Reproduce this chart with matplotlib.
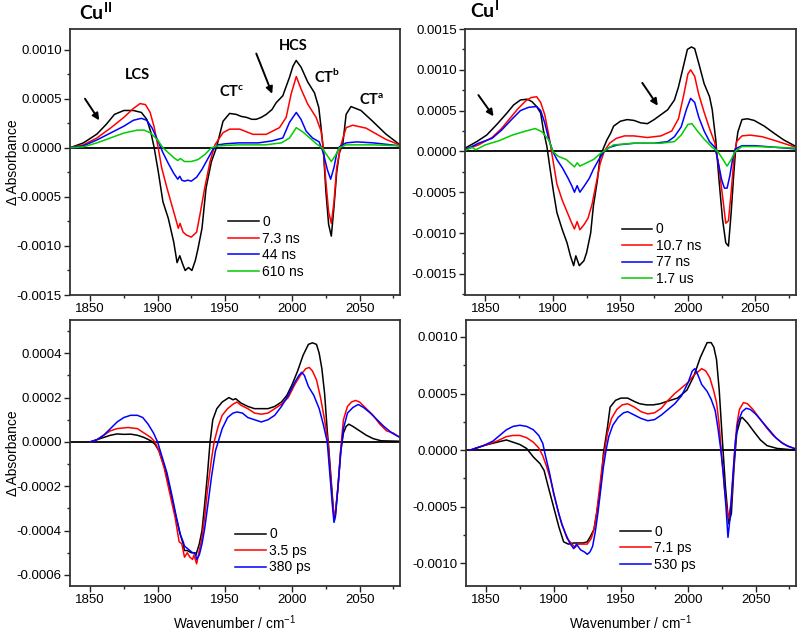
import numpy as np
import matplotlib
matplotlib.use('Agg')
import matplotlib.pyplot as plt
from matplotlib.ticker import MultipleLocator, FormatStrFormatter

plt.rcParams['font.family'] = ['Liberation Sans', 'DejaVu Sans']
plt.rcParams['axes.unicode_minus'] = False

# -----------------------------
# Data (wavenumber / cm-1, dA in units of 1e-4)
# -----------------------------
# Cu(II), ns delays
cu2_ns_labels = ['0', '7.3 ns', '44 ns', '610 ns']
cu2_ns_0_x = [1835, 1845, 1855, 1862, 1868, 1875, 1882, 1888, 1892, 1895, 1897.5, 1900.5, 1904, 1908, 1912,
              1914.5, 1916.5, 1918.5, 1920.5, 1923, 1925.5, 1928, 1930, 1933, 1936, 1940, 1943.7, 1948.6,
              1953.5, 1958.5, 1962, 1966, 1970, 1973.3, 1977, 1980.7, 1985, 1988.1, 1993, 1998, 2000.5,
              2002.9, 2006.6, 2011.5, 2016.5, 2019.7, 2021.4, 2023.1, 2025, 2027, 2029, 2031, 2033, 2035,
              2037.5, 2040, 2043.6, 2051, 2059.7, 2069.5, 2079.5]
cu2_ns_0_y = [0, 0.5, 1.4, 2.4, 3.4, 3.8, 3.8, 3.6, 2.9, 1.6, 0, -2.4, -5.5, -7.2, -9.6,
              -11.7, -11.0, -11.8, -12.5, -12.2, -12.5, -11.5, -10.3, -8.2, -4.1, -1.4, 0, 2.7,
              3.5, 3.4, 3.2, 3.1, 2.9, 2.9, 3.1, 3.4, 3.9, 4.6, 5.3, 7.2, 8.3,
              8.9, 8.2, 6.7, 5.6, 4.1, 2.05, -0.2, -4.5, -7.8, -9.0, -6.0, -2.5, -0.5,
              0.35, 3.4, 4.2, 3.8, 2.7, 1.4, 0.35]
cu2_ns_1_x = [1835, 1845, 1855, 1865, 1875, 1882, 1887, 1891, 1894.5, 1897.5, 1900.5, 1903, 1907, 1910.5, 1914,
              1915.4, 1916.7, 1919, 1921.6, 1925, 1929, 1931.5, 1935, 1939, 1942.6, 1948.6, 1953.5, 1961,
              1970.8, 1980.7, 1990.5, 1995.5, 1999.2, 2003, 2006.5, 2011.5, 2017.7, 2021.4, 2023, 2025,
              2027, 2029, 2031, 2033, 2036.2, 2040, 2044.9, 2054.8, 2069.5, 2079.5]
cu2_ns_1_y = [0, 0.3, 1.0, 2.0, 3.1, 4.0, 4.5, 4.4, 3.6, 2.1, 0, -2.0, -4.1, -5.8, -7.5,
              -8.2, -7.7, -8.6, -8.9, -9.1, -8.6, -6.8, -4.1, -1.4, 0.3, 1.54, 1.9, 1.9,
              1.37, 1.37, 2.05, 3.1, 5.5, 7.26, 6.0, 4.45, 3.1, 1.7, 0, -3.5,
              -6.5, -7.7, -5.5, -2.0, 0.3, 2.05, 2.3, 2.0, 0.86, 0.3]
cu2_ns_2_x = [1835, 1845, 1855, 1865, 1875, 1882, 1888, 1892, 1896, 1900, 1904, 1908, 1912, 1915, 1916.5,
              1918, 1920, 1922.5, 1925, 1929, 1933, 1937, 1941, 1945, 1950, 1960, 1975, 1985, 1993, 1998,
              2003, 2006.5, 2010.3, 2015, 2020, 2023, 2026, 2028.5, 2031, 2033, 2035, 2040, 2048, 2060, 2080]
cu2_ns_2_y = [0, 0.2, 0.8, 1.5, 2.2, 2.8, 3.0, 2.8, 2.0, 0.8, -0.5, -1.6, -2.6, -3.2, -2.9,
              -3.3, -3.4, -3.3, -3.4, -3.0, -2.2, -1.2, -0.2, 0.3, 0.4, 0.5, 0.5, 0.7, 1.0, 2.6,
              3.6, 2.9, 1.7, 1.0, 0.6, -0.5, -2.2, -3.2, -2.0, -0.6, 0.1, 0.5, 0.6, 0.5, 0.2]
cu2_ns_3_x = [1835, 1845, 1855, 1865, 1875, 1885, 1890, 1895, 1900, 1904, 1908, 1912, 1915, 1917, 1920,
              1925, 1930, 1935, 1940, 1945, 1960, 1980, 1992, 1998, 2003, 2008, 2013, 2018, 2022, 2026,
              2029, 2032, 2035, 2040, 2060, 2080]
cu2_ns_3_y = [0, 0.1, 0.5, 1.0, 1.5, 1.8, 1.8, 1.5, 0.8, 0, -0.5, -1.0, -1.3, -1.1, -1.4,
              -1.4, -1.2, -0.7, 0, 0.2, 0.3, 0.3, 0.5, 1.0, 2.05, 1.6, 1.0, 0.4, 0, -0.8,
              -1.4, -0.8, 0, 0.3, 0.3, 0.2]

# Cu(I), ns delays
cu1_ns_labels = ['0', '10.7 ns', '77 ns', '1.7 us']
cu1_ns_0_x = [1835, 1843.7, 1851, 1858.5, 1866, 1871, 1876, 1881, 1884.5, 1888, 1891, 1893, 1895.6, 1898, 1900.6,
              1903, 1907, 1910.5, 1913, 1915.4, 1917, 1919.6, 1923, 1925, 1928, 1930, 1933, 1935, 1938, 1940,
              1942.7, 1945, 1950, 1955, 1960, 1965, 1970, 1975, 1980, 1985, 1990, 1993, 1996.6, 1999.6,
              2002.6, 2005, 2008, 2012, 2016, 2018, 2020.6, 2023, 2025.6, 2028, 2030, 2032, 2034, 2035.5,
              2037, 2040, 2044, 2049, 2056.5, 2064, 2071, 2080]
cu1_ns_0_y = [0.4, 1.2, 2.0, 3.3, 4.7, 5.7, 6.3, 6.4, 6.1, 5.5, 4.7, 2.6, 0.6, -2.2, -5.1,
              -7.5, -9.6, -11.2, -12.8, -14.0, -12.8, -14.0, -13.4, -12.4, -10.0, -6.7, -3.5, -0.6, 0.6, 1.4,
              2.2, 3.1, 3.7, 3.9, 3.8, 3.5, 3.4, 3.9, 4.5, 5.1, 6.3, 7.9, 10.4, 12.5,
              12.8, 12.6, 10.8, 8.3, 6.7, 5.1, 1.4, -3.5, -8.3, -11.2, -11.6, -7.5, -2.6, 0.6,
              2.4, 3.9, 4.0, 3.8, 3.1, 2.2, 1.4, 0.6]
cu1_ns_1_x = [1835, 1845, 1855, 1862, 1868, 1874, 1880, 1884, 1888, 1891, 1894, 1897, 1900, 1903, 1907,
              1911, 1914, 1916, 1918, 1920, 1923, 1926, 1929, 1932, 1935, 1938, 1942, 1947, 1953, 1960,
              1970, 1980, 1988, 1993, 1997, 2000, 2002, 2005, 2008, 2012, 2016, 2020, 2023, 2026, 2028,
              2030, 2032, 2034, 2036, 2040, 2046, 2055, 2065, 2080]
cu1_ns_1_y = [0.2, 0.8, 1.7, 2.8, 4.0, 5.2, 6.2, 6.6, 6.7, 6.0, 4.5, 2.0, -1.0, -4.0, -6.0,
              -7.6, -8.8, -9.5, -8.6, -9.6, -9.0, -8.2, -6.5, -4.0, -1.5, 0, 1.0, 1.6, 1.9, 1.9,
              1.7, 1.9, 2.5, 4.0, 7.0, 9.5, 10.0, 9.2, 7.0, 4.8, 2.8, 1.0, -2.0, -6.0, -8.8,
              -8.5, -5.0, -1.0, 1.2, 1.9, 2.0, 1.8, 1.3, 0.5]
cu1_ns_2_x = [1835, 1845, 1855, 1862, 1870, 1876, 1882, 1888, 1891, 1894, 1897, 1900, 1903, 1907, 1911,
              1914, 1916, 1918, 1920, 1923, 1927, 1930, 1934, 1938, 1942, 1948, 1960, 1975, 1985, 1990,
              1995, 1999, 2002, 2005, 2008, 2012, 2016, 2020, 2022, 2025, 2027, 2029, 2031, 2033, 2035,
              2040, 2050, 2065, 2080]
cu1_ns_2_y = [0.2, 1.0, 1.6, 2.6, 4.0, 5.0, 5.4, 5.5, 5.0, 3.5, 1.5, 0, -1.0, -2.0, -3.2,
              -4.2, -5.0, -4.2, -5.0, -4.3, -3.3, -2.2, -1.0, 0, 0.5, 0.8, 1.0, 1.0, 1.2, 1.8,
              3.0, 5.2, 6.5, 6.0, 4.2, 2.5, 1.2, 0.5, -1.0, -3.5, -4.5, -4.5, -3.0, -1.0, 0.3,
              0.7, 0.7, 0.5, 0.3]
cu1_ns_3_x = [1835, 1840, 1843, 1850, 1860, 1870, 1880, 1887, 1892, 1897, 1900, 1904, 1910, 1914, 1916,
              1918, 1920, 1925, 1930, 1935, 1940, 1945, 1960, 1980, 1990, 1995, 2000, 2003, 2007, 2012,
              2018, 2022, 2026, 2029, 2032, 2035, 2040, 2050, 2065, 2080]
cu1_ns_3_y = [0.1, 0.5, 0.2, 0.8, 1.3, 2.0, 2.5, 2.8, 2.4, 1.4, 0, -0.6, -1.0, -1.6, -1.9,
              -1.4, -1.8, -1.4, -1.0, -0.3, 0.3, 0.8, 1.0, 1.0, 1.2, 2.0, 3.3, 3.4, 2.5, 1.5,
              0.5, 0, -1.0, -1.8, -1.0, 0, 0.6, 0.6, 0.5, 0.4]

# Cu(II), ps delays
cu2_ps_labels = ['0', '3.5 ps', '380 ps']
cu2_ps_0_x = [1850, 1855, 1860, 1865, 1870, 1875, 1880, 1885, 1890, 1895, 1898, 1901, 1905, 1909, 1913,
              1916.5, 1919, 1920, 1922, 1925, 1927, 1928.5, 1931, 1933, 1935, 1937, 1939, 1941, 1944, 1948,
              1953, 1956, 1958, 1962, 1967, 1972, 1977, 1982, 1987, 1992, 1996, 2000, 2004, 2008, 2012,
              2015, 2018, 2020, 2022, 2024, 2026, 2027, 2029, 2031, 2032, 2034, 2036, 2038, 2040, 2042,
              2045, 2050, 2055, 2060, 2066, 2080]
cu2_ps_0_y = [0, 0.1, 0.2, 0.3, 0.36, 0.34, 0.35, 0.3, 0.2, 0.05, -0.1, -0.4, -1.1, -2.1, -3.2,
              -4.1, -4.6, -4.9, -4.9, -5.0, -5.0, -5.1, -4.6, -4.0, -2.8, -1.5, 0, 1.0, 1.5, 1.8,
              2.0, 1.9, 1.95, 1.75, 1.6, 1.5, 1.5, 1.5, 1.6, 1.8, 2.1, 2.6, 3.2, 3.9, 4.4,
              4.47, 4.4, 4.0, 3.3, 2.2, 0.5, -0.2, -1.8, -3.4, -3.3, -2.0, -0.4, 0.4, 0.7, 0.8,
              0.7, 0.5, 0.3, 0.15, 0.05, 0.03]
cu2_ps_1_x = [1850, 1855, 1860, 1865, 1870, 1878, 1885, 1890, 1895, 1898, 1901, 1905, 1909, 1913, 1916,
              1918, 1920, 1922, 1924, 1926, 1927, 1929, 1931, 1933, 1935, 1937, 1940, 1942, 1945, 1948,
              1952, 1956, 1959, 1962, 1967, 1972, 1977, 1982, 1987, 1992, 1997, 2002, 2006, 2010, 2012.6,
              2015, 2018, 2021, 2024, 2026.5, 2028, 2030, 2031, 2032, 2034, 2036, 2038, 2041, 2044, 2047,
              2050, 2055, 2060, 2065, 2070, 2075, 2080]
cu2_ps_1_y = [0, 0.1, 0.3, 0.5, 0.6, 0.65, 0.6, 0.4, 0.2, 0, -0.4, -1.2, -2.3, -3.4, -4.5,
              -4.6, -5.2, -5.0, -5.2, -5.3, -5.1, -5.5, -4.9, -4.3, -3.4, -2.2, -0.8, 0, 0.7, 1.2,
              1.5, 1.7, 1.8, 1.65, 1.5, 1.3, 1.25, 1.3, 1.5, 1.7, 2.0, 2.6, 3.0, 3.3, 3.36,
              3.2, 2.8, 2.0, 1.0, 0, -1.2, -2.8, -3.3, -3.2, -2.0, -0.3, 1.0, 1.6, 1.8, 1.87,
              1.8, 1.5, 1.2, 0.8, 0.5, 0.4, 0.2]
cu2_ps_2_x = [1850, 1855, 1860, 1865, 1870, 1875, 1880, 1885, 1889, 1893, 1897, 1900, 1903, 1907, 1911,
              1914, 1917, 1919, 1920, 1922, 1924, 1926, 1928, 1929, 1931, 1933, 1935, 1937, 1940, 1943,
              1945, 1948, 1952, 1956, 1959, 1963, 1967, 1972, 1977, 1982, 1987, 1992, 1997, 2002, 2005,
              2007, 2009, 2012, 2016, 2020, 2023, 2026, 2028, 2030, 2031, 2032, 2034, 2036, 2038, 2041,
              2045, 2049, 2053, 2058, 2063, 2068, 2074, 2080]
cu2_ps_2_y = [0, 0.1, 0.3, 0.6, 0.9, 1.1, 1.2, 1.2, 1.1, 0.8, 0.4, 0, -0.6, -1.4, -2.5,
              -3.4, -4.2, -4.5, -4.7, -4.8, -4.9, -5.0, -5.0, -5.3, -5.1, -4.6, -3.9, -3.0, -1.6, -0.4,
              0, 0.6, 1.1, 1.3, 1.35, 1.3, 1.1, 1.0, 0.9, 1.0, 1.2, 1.6, 2.1, 2.7, 3.0,
              3.14, 3.0, 2.5, 2.1, 1.5, 0.8, 0, -1.5, -3.0, -3.63, -3.4, -2.0, -0.5, 0.6, 1.3,
              1.55, 1.69, 1.55, 1.3, 1.0, 0.7, 0.4, 0.2]

# Cu(I), ps delays
cu1_ps_labels = ['0', '7.1 ps', '530 ps']
cu1_ps_0_x = [1838, 1848, 1858, 1865, 1870, 1875, 1880, 1885, 1890, 1893, 1896, 1900, 1904, 1907.5, 1911,
              1915, 1919, 1922, 1925, 1927, 1930, 1932, 1935, 1937, 1940, 1942, 1946, 1950, 1955, 1960,
              1964, 1969, 1974, 1979, 1984, 1992, 1999, 2004, 2009, 2014, 2017, 2019, 2021, 2023, 2025,
              2027.6, 2030, 2032, 2034, 2036, 2039, 2040, 2044, 2049, 2053.6, 2058.5, 2066, 2080]
cu1_ps_0_y = [0, 0.4, 0.7, 0.9, 0.7, 0.5, 0.15, -0.6, -1.2, -1.8, -3.2, -5.0, -6.8, -8.1, -8.3,
              -8.2, -8.2, -8.2, -8.1, -7.7, -7.0, -5.6, -3.2, -0.3, 2.0, 3.8, 4.4, 4.6, 4.6, 4.3,
              4.1, 4.0, 4.0, 4.1, 4.3, 4.6, 5.3, 6.5, 8.2, 9.5, 9.5, 9.1, 8.0, 5.3, 1.5,
              -3.2, -6.5, -5.6, -1.5, 1.5, 2.8, 2.9, 2.4, 1.6, 0.9, 0.4, 0.15, 0]
cu1_ps_1_x = [1838, 1848, 1858, 1865, 1870, 1875, 1880, 1885, 1889, 1892, 1895, 1898, 1901, 1904, 1907,
              1910, 1913, 1916, 1918, 1921, 1925, 1928, 1930, 1932, 1934, 1936, 1938, 1940, 1943, 1947,
              1951, 1955, 1960, 1965, 1970, 1975, 1980, 1985, 1990, 1995, 2000, 2004, 2008, 2010, 2013,
              2016, 2019, 2021, 2023, 2025, 2027, 2029, 2030, 2032, 2034, 2036, 2038, 2041, 2044, 2048,
              2053, 2058, 2063, 2068, 2073, 2080]
cu1_ps_1_y = [0, 0.4, 0.8, 1.2, 1.3, 1.3, 1.1, 0.7, 0.2, -0.5, -1.5, -2.7, -4.2, -5.7, -6.8,
              -7.8, -8.2, -8.6, -8.3, -8.3, -8.3, -7.8, -7.0, -5.5, -3.5, -1.5, 0, 1.5, 2.8, 3.6,
              4.0, 4.1, 3.8, 3.4, 3.2, 3.3, 3.7, 4.4, 5.0, 5.5, 6.0, 6.6, 7.0, 7.2, 7.0,
              6.4, 5.2, 4.2, 2.2, -0.8, -3.5, -5.5, -6.0, -4.5, -1.0, 2.2, 3.6, 4.2, 4.1, 3.6,
              2.8, 2.0, 1.3, 0.8, 0.4, 0.1]
cu1_ps_2_x = [1838, 1848, 1855, 1860, 1865, 1870, 1875, 1880, 1885, 1889, 1892, 1894, 1897, 1900, 1903,
              1906, 1909, 1912, 1915, 1917, 1920, 1923, 1925, 1927, 1929, 1931, 1933, 1935, 1937, 1939,
              1941, 1944, 1948, 1952, 1955, 1960, 1965, 1970, 1975, 1980, 1985, 1990, 1995, 2000, 2003,
              2005, 2007, 2010, 2014, 2017, 2020, 2022, 2024, 2026, 2028, 2029.5, 2031, 2033, 2035, 2037,
              2040, 2043, 2046, 2050, 2055, 2060, 2065, 2070, 2075, 2080]
cu1_ps_2_y = [0, 0.4, 0.8, 1.3, 1.8, 2.1, 2.2, 2.1, 1.8, 1.3, 0.6, -0.5, -2.0, -3.8, -5.2,
              -6.5, -7.4, -8.2, -8.7, -8.3, -8.8, -9.0, -9.2, -9.0, -8.5, -7.2, -5.5, -3.5, -1.5, 0,
              1.2, 2.2, 2.9, 3.3, 3.4, 3.1, 2.8, 2.6, 2.7, 3.1, 3.6, 4.1, 4.8, 6.0, 7.0,
              7.2, 6.7, 5.8, 5.2, 4.5, 3.5, 2.0, 0.2, -2.0, -5.0, -7.7, -6.0, -2.5, 0.8, 2.5,
              3.4, 3.7, 3.6, 3.2, 2.5, 1.8, 1.1, 0.6, 0.3, 0.1]

colors = ['#000000', '#ff0000', '#0000ff', '#00cc00']


def setup_axes(ax, ylim, major, minor):
    ax.set_xlim(1835, 2080)
    ax.set_ylim(*ylim)
    ax.xaxis.set_major_locator(MultipleLocator(50))
    ax.xaxis.set_minor_locator(MultipleLocator(25))
    ax.yaxis.set_major_locator(MultipleLocator(major))
    ax.yaxis.set_minor_locator(MultipleLocator(minor))
    ax.yaxis.set_major_formatter(FormatStrFormatter('%.4f'))
    ax.tick_params(which='both', direction='out', top=False, right=False,
                   labelsize=9.5, color='#222222', width=1.0, pad=2)
    ax.tick_params(which='major', length=4)
    ax.tick_params(which='minor', length=2.5)
    for s in ax.spines.values():
        s.set_linewidth(1.3)
        s.set_color('#333333')
    ax.axhline(0, color='k', lw=1.3, zorder=1)


def draw(ax, xs, ys, labels, legend_xy):
    for x, y, lab, c in zip(xs, ys, labels, colors):
        ax.plot(x, np.array(y) * 1e-4, color=c, lw=1.1, label=lab, zorder=2)
    ax.legend(loc='upper left', bbox_to_anchor=legend_xy, frameon=False, fontsize=10,
              handlelength=2.2, handletextpad=0.25, labelspacing=0.18,
              borderpad=0, borderaxespad=0)


fig = plt.figure(figsize=(8, 6.32), dpi=100)
ax_tl = fig.add_axes([0.0875, 0.5332, 0.4125, 0.4209])
ax_tr = fig.add_axes([0.5813, 0.5332, 0.4137, 0.4209])
ax_bl = fig.add_axes([0.0875, 0.0728, 0.4125, 0.4209])
ax_br = fig.add_axes([0.5825, 0.0728, 0.4125, 0.4209])

setup_axes(ax_tl, (-0.0015, 0.00121), 0.0005, 0.00025)
setup_axes(ax_tr, (-0.00176, 0.0015), 0.0005, 0.00025)
setup_axes(ax_bl, (-0.00065, 0.00055), 0.0002, 0.0001)
setup_axes(ax_br, (-0.0012, 0.00115), 0.0005, 0.00025)

draw(ax_tl, [cu2_ns_0_x, cu2_ns_1_x, cu2_ns_2_x, cu2_ns_3_x],
     [cu2_ns_0_y, cu2_ns_1_y, cu2_ns_2_y, cu2_ns_3_y], cu2_ns_labels, (0.479, 0.30))
draw(ax_tr, [cu1_ns_0_x, cu1_ns_1_x, cu1_ns_2_x, cu1_ns_3_x],
     [cu1_ns_0_y, cu1_ns_1_y, cu1_ns_2_y, cu1_ns_3_y], cu1_ns_labels, (0.473, 0.273))
draw(ax_bl, [cu2_ps_0_x, cu2_ps_1_x, cu2_ps_2_x],
     [cu2_ps_0_y, cu2_ps_1_y, cu2_ps_2_y], cu2_ps_labels, (0.5, 0.22))
draw(ax_br, [cu1_ps_0_x, cu1_ps_1_x, cu1_ps_2_x],
     [cu1_ps_0_y, cu1_ps_1_y, cu1_ps_2_y], cu1_ps_labels, (0.467, 0.231))

for ax in (ax_tl, ax_bl):
    ax.set_ylabel('\u0394 Absorbance', fontsize=10)
    ax.yaxis.set_label_coords(-0.153, 0.5)
for ax in (ax_bl, ax_br):
    ax.set_xlabel('Wavenumber / cm$^{\\mathregular{-1}}$', fontsize=9.8, labelpad=5)

# band labels and arrows (Cu II)
bold = dict(family='Lato', fontweight='bold', fontsize=10.5, ha='center', va='center')
ax_tl.text(1885.4, 0.00074, 'LCS', **bold)
ax_tl.text(1955, 0.00057, 'CT$^{\\mathregular{c}}$', **bold)
ax_tl.text(2001, 0.00104, 'HCS', **bold)
ax_tl.text(2025.5, 0.00073, 'CT$^{\\mathregular{b}}$', **bold)
ax_tl.text(2059, 0.00049, 'CT$^{\\mathregular{a}}$', **bold)

arrow = dict(arrowstyle='-|>', color='k', lw=1.4, mutation_scale=10, shrinkA=0, shrinkB=0)
ax_tl.annotate('', xy=(1856.7, 0.00028), xytext=(1846.1, 0.0005), arrowprops=arrow)
ax_tl.annotate('', xy=(1985.1, 0.00055), xytext=(1973.3, 0.00096), arrowprops=arrow)
ax_tr.annotate('', xy=(1856.1, 0.00043), xytext=(1844.9, 0.00069), arrowprops=arrow)
ax_tr.annotate('', xy=(1977.7, 0.00056), xytext=(1966.2, 0.00084), arrowprops=arrow)

fig.text(79 / 800, 1 - 20 / 632, 'Cu$^{\\mathregular{II}}$', family='Lato', fontweight='bold',
         fontsize=14, ha='left', va='baseline')
fig.text(470 / 800, 1 - 18 / 632, 'Cu$^{\\mathregular{I}}$', family='Lato', fontweight='bold',
         fontsize=14, ha='left', va='baseline')

fig.savefig('out.png', dpi=100)
